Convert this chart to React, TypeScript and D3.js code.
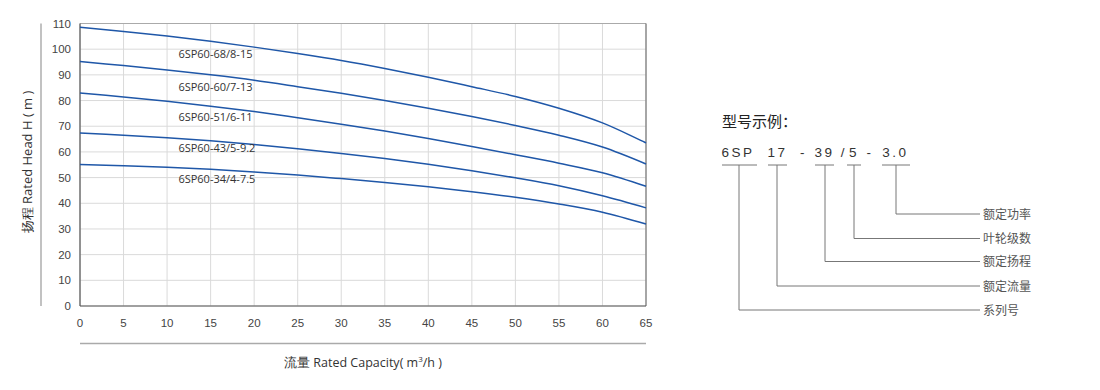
import React from "react";
import * as d3 from "d3";

const flows = [0, 5, 10, 15, 20, 25, 30, 35, 40, 45, 50, 55, 60, 65];
const head68 = [108.5, 106.9, 105.1, 103.1, 100.8, 98.3, 95.6, 92.5, 89.1, 85.4, 81.6, 77.0, 71.3, 63.5];
const head60 = [95.2, 93.6, 91.9, 90, 87.9, 85.4, 82.8, 80.0, 77.0, 73.8, 70.3, 66.5, 61.9, 55.3];
const head51 = [82.9, 81.4, 79.7, 77.8, 75.7, 73.3, 70.8, 68.1, 65.2, 62.1, 58.9, 55.6, 51.9, 46.6];
const head43 = [67.4, 66.5, 65.5, 64.3, 62.9, 61.2, 59.4, 57.4, 55.2, 52.7, 49.9, 46.8, 42.9, 38.2];
const head34 = [55.1, 54.6, 54.0, 53.2, 52.2, 51.0, 49.6, 48.1, 46.4, 44.5, 42.3, 39.7, 36.5, 31.9];
const seriesNames = ["6SP60-68/8-15", "6SP60-60/7-13", "6SP60-51/6-11", "6SP60-43/5-9.2", "6SP60-34/4-7.5"];
const seriesValues = [head68, head60, head51, head43, head34];
const labelFlow = [11.3, 11.3, 11.3, 11.3, 11.3];
const labelHead = [96.5, 83.8, 72.1, 59.8, 48.0];
const xTicks = [0, 5, 10, 15, 20, 25, 30, 35, 40, 45, 50, 55, 60, 65];
const yTicks = [0, 10, 20, 30, 40, 50, 60, 70, 80, 90, 100, 110];

const codeParts = ["6SP", "17", "-", "39", "/", "5", "-", "3.0"];
const codeMeanings = ["额定功率", "叶轮级数", "额定扬程", "额定流量", "系列号"];

export default function App() {
  const x = d3.scaleLinear().domain([0, 65]).range([80, 646]);
  const y = d3.scaleLinear().domain([0, 110]).range([306, 23.5]);
  const line = d3
    .line<[number, number]>()
    .x((d) => x(d[0]))
    .y((d) => y(d[1]))
    .curve(d3.curveCatmullRom.alpha(0.5));

  const tickFont = "'Liberation Sans', Arial, sans-serif";
  const labelFont = "'Open Sans', 'Noto Sans', sans-serif";
  const cjk = "'Noto Sans CJK SC', 'Open Sans', sans-serif";

  // model code layout
  const partX = [738, 777.5, 803.5, 824.5, 844, 854, 870, 895.5];
  const underlines = [
    [722, 757],
    [768, 787],
    [815, 834],
    [847, 861],
    [882, 910],
  ];
  const stemX = [896, 854, 825, 777, 739];
  const stemY = [214, 238.5, 261.5, 286, 310];

  return (
    <svg width={1100} height={390} style={{ display: "block", position: "absolute", left: 0, top: 0, background: "#fff" }}>
      <rect x={0} y={0} width={1100} height={390} fill="#fff" />
      {/* grid */}
      {xTicks.map((t) => (
        <line key={"gx" + t} x1={x(t)} x2={x(t)} y1={y(110)} y2={y(0)} stroke="#dadada" strokeWidth={1} />
      ))}
      {yTicks.map((t) => (
        <line key={"gy" + t} x1={x(0)} x2={x(65)} y1={y(t)} y2={y(t)} stroke="#dadada" strokeWidth={1} />
      ))}
      {/* frame */}
      <line x1={x(0)} x2={x(65)} y1={y(110)} y2={y(110)} stroke="#aaa" strokeWidth={1} />
      <line x1={x(65)} x2={x(65)} y1={y(110)} y2={y(0)} stroke="#777" strokeWidth={1.2} />
      <line x1={x(0)} x2={x(0)} y1={y(110)} y2={y(0)} stroke="#555" strokeWidth={1.2} />
      <line x1={x(0)} x2={x(65)} y1={y(0)} y2={y(0)} stroke="#555" strokeWidth={1.2} />
      {/* outer decorative axes */}
      <line x1={41} x2={41} y1={y(110)} y2={y(0)} stroke="#999" strokeWidth={1.2} />
      <line x1={x(0)} x2={x(65)} y1={343.5} y2={343.5} stroke="#aaa" strokeWidth={1.5} />
      {/* tick labels */}
      {yTicks.map((t) => (
        <text key={"ty" + t} x={71} y={y(t) + 4} textAnchor="end" fontSize={11.5} fontFamily={tickFont} fill="#444">
          {t}
        </text>
      ))}
      {xTicks.map((t) => (
        <text key={"tx" + t} x={x(t)} y={327} textAnchor="middle" fontSize={11.5} fontFamily={tickFont} fill="#444">
          {t}
        </text>
      ))}
      {/* curves */}
      {seriesValues.map((vals, i) => (
        <path
          key={"c" + i}
          d={line(flows.map((f, j) => [f, vals[j]] as [number, number])) || ""}
          fill="none"
          stroke="#1f57a8"
          strokeWidth={1.5}
        />
      ))}
      {seriesNames.map((n, i) => (
        <text key={"l" + i} x={x(labelFlow[i])} y={y(labelHead[i])} fontSize={11} fontFamily={labelFont} fill="#333">
          {n}
        </text>
      ))}
      {/* axis titles */}
      <text
        transform={`translate(32,162) rotate(-90)`}
        textAnchor="middle"
        fontSize={13}
        fontFamily={labelFont}
        fill="#333"
      >
        扬程 Rated Head H ( m )
      </text>
      <text x={363} y={367} textAnchor="middle" fontSize={12.5} fontFamily={labelFont} fill="#333">
        流量 Rated Capacity( m<tspan fontSize={8} dy={-5}>3</tspan>
        <tspan dy={5}>/h )</tspan>
      </text>
      {/* model code diagram */}
      <text x={722} y={127} fontSize={15} fontFamily={cjk} fill="#222">
        型号示例：
      </text>
      {codeParts.map((p, i) => (
        <text
          key={"p" + i}
          x={partX[i]}
          y={157}
          textAnchor="middle"
          fontSize={13.5}
          letterSpacing={2.5}
          fontFamily={tickFont}
          fill="#333"
        >
          {p}
        </text>
      ))}
      {underlines.map((u, i) => (
        <line key={"u" + i} x1={u[0]} x2={u[1]} y1={165} y2={165} stroke="#777" strokeWidth={1} />
      ))}
      {stemX.map((sx, i) => (
        <g key={"s" + i}>
          <polyline
            points={`${sx},165 ${sx},${stemY[i]} 980,${stemY[i]}`}
            fill="none"
            stroke="#777"
            strokeWidth={1}
          />
          <text x={983} y={stemY[i] + 4.5} fontSize={12} fontFamily={cjk} fill="#555">
            {codeMeanings[i]}
          </text>
        </g>
      ))}
    </svg>
  );
}
